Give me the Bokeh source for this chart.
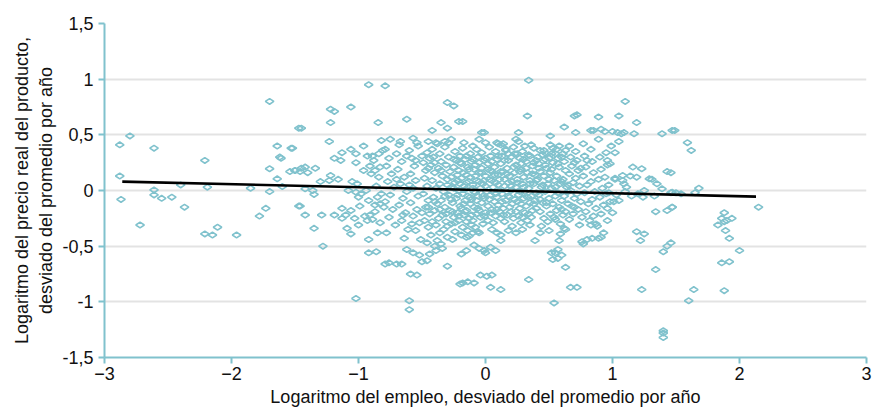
import numpy as np
from bokeh.plotting import figure
from bokeh.models import ColumnDataSource, FixedTicker
from bokeh.embed import file_html
from bokeh.resources import INLINE

# Observations: (log employment deviation, log real product price deviation)
left_tail = [
    (-2.88, 0.41), (-2.80, 0.49), (-2.61, 0.38), (-2.21, 0.27), (-2.88, 0.13),
    (-2.61, 0.005), (-2.40, 0.05), (-2.19, 0.03), (-1.85, 0.02), (-1.70, -0.01),
    (-2.87, -0.08), (-2.61, -0.04), (-2.55, -0.07), (-2.47, -0.06), (-2.37, -0.15),
    (-2.72, -0.31), (-2.21, -0.39), (-2.15, -0.40), (-2.11, -0.33), (-1.96, -0.40),
    (-1.73, -0.16), (-1.78, -0.23), (-1.47, -0.14), (-1.70, 0.80), (-1.64, 0.40),
    (-1.53, 0.38), (-1.62, 0.30), (-1.61, 0.29), (-1.47, 0.56), (-1.70, 0.195),
    (-1.64, 0.105), (-1.54, 0.17), (-1.50, 0.18), (-1.46, 0.17), (-1.60, 0.035),
    (-1.52, 0.38), (-1.45, 0.56),
]

left_spread = [
    (-0.92, 0.95), (-0.79, 0.94), (-1.22, 0.73), (-1.19, 0.71), (-1.06, 0.75),
    (-1.22, 0.61), (-0.845, 0.61), (-1.23, 0.44), (-0.96, 0.40), (-0.82, 0.45),
    (-1.13, 0.34), (-1.06, 0.37), (-1.02, 0.33), (-1.19, 0.29), (-1.14, 0.27),
    (-1.02, 0.25), (-0.93, 0.31), (-0.89, 0.31), (-0.84, 0.33), (-1.50, 0.18),
    (-1.45, 0.20), (-1.40, 0.16), (-1.42, 0.21), (-1.34, 0.20), (-0.96, 0.18),
    (-0.91, 0.22), (-0.87, 0.18), (-0.83, 0.21), (-1.22, 0.135), (-1.30, 0.08),
    (-1.23, 0.09), (-1.16, 0.10), (-1.05, 0.08), (-1.01, 0.06), (-1.42, 0.015),
    (-1.36, 0.00), (-1.35, -0.035), (-1.08, 0.00), (-1.02, -0.015), (-0.98, -0.03),
    (-0.94, 0.00), (-1.00, -0.06), (-0.85, -0.06), (-1.46, -0.14), (-1.42, -0.22),
    (-1.29, -0.22), (-1.19, -0.22), (-1.13, -0.16), (-1.10, -0.22), (-1.06, -0.18),
    (-1.03, -0.25), (-0.99, -0.14), (-0.95, -0.23), (-0.91, -0.22), (-0.89, -0.26),
    (-0.87, -0.13), (-0.83, -0.12), (-0.80, -0.15), (-1.13, -0.25), (-1.00, -0.31),
    (-0.93, -0.27), (-1.35, -0.34), (-1.09, -0.34), (-1.06, -0.39), (-0.92, -0.44),
    (-1.28, -0.50), (-0.92, -0.56), (-0.86, -0.55), (-0.79, -0.66), (-1.02, -0.97),
    (-0.88, 0.27), (-0.84, 0.12), (-0.86, 0.04), (-0.82, -0.03), (-0.87, -0.19),
    (-0.83, -0.29), (-0.81, 0.36), (-0.85, -0.38), (-0.90, 0.15), (-0.92, -0.09),
]

upper_edge = [
    (-0.30, 0.79), (-0.25, 0.76), (-0.62, 0.64), (-0.35, 0.61), (-0.30, 0.56),
    (-0.21, 0.62), (-0.42, 0.54), (-0.75, 0.46), (-0.67, 0.44), (-0.57, 0.47),
    (-0.54, 0.43), (-0.45, 0.44), (-0.38, 0.42), (-0.32, 0.44), (-0.27, 0.46),
    (0.34, 0.99), (0.33, 0.67), (-0.18, 0.62), (-0.03, 0.52), (0.26, 0.52),
    (-0.05, 0.46), (0.24, 0.46), (0.09, 0.43), (0.12, 0.41), (0.70, 0.67),
    (0.72, 0.68), (0.89, 0.66), (0.62, 0.57), (0.85, 0.54), (0.91, 0.55),
    (0.94, 0.53), (-0.01, 0.52), (0.10, 0.42), (0.51, 0.49), (0.71, 0.52),
    (0.83, 0.54), (1.00, 0.53), (1.09, 0.52), (1.17, 0.51),
]

lower_edge = [
    (-0.62, -0.53), (-0.57, -0.56), (-0.52, -0.58), (-0.44, -0.57), (-0.39, -0.54),
    (-0.34, -0.52), (-0.50, -0.64), (-0.46, -0.63), (-0.76, -0.65), (-0.70, -0.66),
    (-0.66, -0.66), (-0.30, -0.68), (-0.59, -0.75), (-0.54, -0.76), (-0.20, -0.84),
    (-0.60, -0.99), (-0.60, -1.07), (-0.19, -0.40), (-0.15, -0.42), (-0.10, -0.38),
    (-0.06, -0.37), (0.12, -0.45), (-0.09, -0.49), (-0.05, -0.52), (0.00, -0.56),
    (0.04, -0.51), (0.08, -0.54), (-0.01, -0.54), (-0.19, -0.57), (-0.15, -0.54),
    (-0.18, -0.83), (-0.14, -0.82), (-0.09, -0.83), (-0.04, -0.76), (0.01, -0.77),
    (0.05, -0.76), (0.04, -0.87), (0.12, -0.89), (0.34, -0.80), (0.76, -0.46),
    (0.80, -0.44), (0.84, -0.43), (0.91, -0.42), (0.58, -0.45), (0.52, -0.56),
    (0.55, -0.56), (0.57, -0.53), (0.53, -0.62), (0.57, -0.61), (0.63, -0.69),
    (0.67, -0.87), (0.72, -0.87), (0.54, -1.01), (0.83, -0.31), (0.87, -0.30),
    (0.77, -0.48), (0.89, -0.43), (0.59, -0.39), (0.62, -0.34), (0.43, -0.38),
    (0.39, -0.45), (0.60, -0.58),
]

core = [
    (-0.79, 0.37), (-0.76, 0.29), (-0.78, 0.22), (-0.74, 0.15), (-0.77, 0.08),
    (-0.72, 0.03), (-0.75, -0.04), (-0.79, -0.10), (-0.73, -0.17), (-0.76, -0.24),
    (-0.71, -0.31), (-0.78, -0.38), (-0.70, 0.33), (-0.68, 0.41), (-0.66, 0.26),
    (-0.69, 0.19), (-0.64, 0.12), (-0.67, 0.06), (-0.62, -0.01), (-0.65, -0.07),
    (-0.68, -0.13), (-0.63, -0.20), (-0.66, -0.27), (-0.61, -0.35), (-0.64, -0.43),
    (-0.60, 0.36), (-0.58, 0.29), (-0.56, 0.22), (-0.59, 0.15), (-0.55, 0.09),
    (-0.57, 0.02), (-0.53, -0.05), (-0.59, -0.11), (-0.54, -0.17), (-0.57, -0.23),
    (-0.52, -0.29), (-0.55, -0.36), (-0.51, -0.44), (-0.53, 0.40), (-0.50, 0.31),
    (-0.49, 0.25), (-0.47, 0.18), (-0.48, 0.11), (-0.46, 0.04), (-0.49, -0.03),
    (-0.45, -0.09), (-0.47, -0.15), (-0.44, -0.21), (-0.48, -0.27), (-0.45, -0.33),
    (-0.43, -0.40), (-0.46, -0.47), (-0.42, 0.37), (-0.41, 0.30), (-0.43, 0.23),
    (-0.40, 0.16), (-0.42, 0.09), (-0.39, 0.02), (-0.41, -0.06), (-0.38, -0.12),
    (-0.40, -0.18), (-0.37, -0.25), (-0.39, -0.31), (-0.36, -0.38), (-0.38, -0.45),
    (-0.36, 0.33), (-0.35, 0.26), (-0.37, 0.20), (-0.34, 0.13), (-0.36, 0.06),
    (-0.33, -0.01), (-0.35, -0.09), (-0.32, -0.15), (-0.34, -0.22), (-0.31, -0.28),
    (-0.33, -0.35), (-0.30, -0.42), (-0.32, 0.39), (-0.29, 0.30), (-0.31, 0.23),
    (-0.28, 0.17), (-0.30, 0.10), (-0.27, 0.03), (-0.29, -0.04), (-0.26, -0.11),
    (-0.28, -0.18), (-0.25, -0.24), (-0.27, -0.30), (-0.24, -0.37), (-0.26, -0.44),
    (-0.24, 0.35), (-0.23, 0.27), (-0.25, 0.21), (-0.22, 0.14), (-0.24, 0.07),
    (-0.21, 0.00), (-0.23, -0.07), (-0.20, -0.14), (-0.22, -0.20), (-0.21, -0.27),
    (-0.20, 0.31), (-0.19, 0.24), (-0.21, 0.18), (-0.18, -0.33), (-0.44, 0.29),
    (-0.46, 0.34), (-0.40, -0.50), (-0.35, -0.48), (-0.29, 0.43), (-0.39, 0.43),
    (-0.19, 0.11), (-0.17, 0.04), (-0.18, -0.03), (-0.16, -0.09), (-0.19, -0.16),
    (-0.17, -0.22), (-0.15, -0.28), (-0.18, 0.38), (-0.16, 0.28), (-0.14, 0.21),
    (-0.15, 0.14), (-0.13, 0.08), (-0.16, 0.01), (-0.14, -0.05), (-0.12, -0.12),
    (-0.15, -0.18), (-0.13, -0.25), (-0.11, -0.31), (-0.14, -0.36), (-0.12, 0.33),
    (-0.11, 0.26), (-0.09, 0.19), (-0.12, 0.12), (-0.10, 0.05), (-0.08, -0.02),
    (-0.11, -0.08), (-0.09, -0.15), (-0.07, -0.21), (-0.10, -0.27), (-0.08, -0.33),
    (-0.07, 0.37), (-0.06, 0.30), (-0.08, 0.23), (-0.05, 0.16), (-0.07, 0.09),
    (-0.04, 0.02), (-0.06, -0.05), (-0.03, -0.11), (-0.05, -0.18), (-0.04, -0.24),
    (-0.02, -0.30), (-0.03, 0.34), (-0.01, 0.27), (-0.03, 0.20), (0.00, 0.13),
    (-0.02, 0.06), (0.01, -0.01), (-0.01, -0.07), (0.02, -0.14), (0.00, -0.20),
    (0.02, -0.27), (0.03, 0.39), (0.04, 0.31), (0.02, 0.24), (0.05, 0.17),
    (0.03, 0.10), (0.06, 0.03), (0.04, -0.04), (0.07, -0.10), (0.05, -0.17),
    (0.08, -0.23), (0.06, -0.29), (0.08, 0.35), (0.09, 0.28), (0.07, 0.21),
    (0.10, 0.14), (0.08, 0.07), (0.11, 0.00), (0.09, -0.06), (0.10, -0.13),
    (-0.17, 0.43), (-0.10, 0.40), (0.05, -0.35), (-0.05, -0.38), (0.00, 0.43),
    (-0.13, -0.41), (0.09, -0.38), (-0.01, 0.09), (-0.09, -0.01), (0.04, 0.18),
    (0.11, -0.19), (0.12, -0.25), (0.13, 0.31), (0.12, 0.24), (0.14, 0.17),
    (0.11, 0.10), (0.15, 0.04), (0.13, -0.03), (0.16, -0.09), (0.14, -0.16),
    (0.17, -0.22), (0.15, -0.28), (0.16, 0.36), (0.18, 0.27), (0.17, 0.20),
    (0.19, 0.13), (0.18, 0.07), (0.20, 0.00), (0.19, -0.06), (0.21, -0.12),
    (0.20, -0.19), (0.22, -0.25), (0.21, -0.32), (0.23, 0.33), (0.22, 0.39),
    (0.24, 0.23), (0.23, 0.16), (0.25, 0.10), (0.24, 0.03), (0.26, -0.04),
    (0.25, -0.10), (0.27, -0.16), (0.26, -0.23), (0.28, -0.29), (0.27, 0.29),
    (0.29, 0.35), (0.28, 0.19), (0.30, 0.12), (0.29, 0.06), (0.31, -0.01),
    (0.30, -0.07), (0.32, -0.14), (0.31, -0.20), (0.33, -0.27), (0.32, 0.26),
    (0.34, 0.32), (0.33, 0.16), (0.35, 0.09), (0.34, 0.02), (0.36, -0.05),
    (0.35, -0.11), (0.37, -0.18), (0.36, -0.24), (0.38, 0.38), (0.37, 0.22),
    (0.39, 0.14), (0.38, 0.06), (0.40, -0.02), (0.39, -0.09), (0.40, -0.16),
    (0.14, 0.42), (0.26, 0.44), (0.31, 0.40), (0.18, -0.36), (0.29, -0.35),
    (0.12, -0.40), (0.24, -0.38), (0.35, -0.31), (0.21, 0.08), (0.27, -0.01),
    (0.41, 0.30), (0.42, 0.24), (0.43, 0.17), (0.41, 0.10), (0.44, 0.03),
    (0.42, -0.04), (0.45, -0.11), (0.43, -0.19), (0.46, -0.25), (0.44, -0.32),
    (0.46, 0.36), (0.47, 0.28), (0.48, 0.20), (0.46, 0.13), (0.49, 0.06),
    (0.47, -0.01), (0.50, -0.07), (0.48, -0.14), (0.51, -0.21), (0.49, -0.28),
    (0.51, 0.41), (0.52, 0.33), (0.53, 0.25), (0.51, 0.16), (0.54, 0.09),
    (0.52, 0.02), (0.55, -0.05), (0.53, -0.12), (0.56, -0.18), (0.54, -0.24),
    (0.56, 0.37), (0.57, 0.29), (0.58, 0.21), (0.56, 0.13), (0.59, 0.06),
    (0.57, -0.02), (0.60, -0.09), (0.58, -0.15), (0.61, -0.22), (0.59, -0.30),
    (0.61, 0.33), (0.62, 0.26), (0.63, 0.18), (0.61, 0.10), (0.64, 0.03),
    (0.62, -0.05), (0.65, -0.12), (0.63, -0.19), (0.66, -0.26), (0.66, 0.40),
    (0.67, 0.30), (0.68, 0.22), (0.66, 0.15), (0.69, 0.07), (0.67, 0.00),
    (0.70, -0.07), (0.68, -0.14), (0.69, -0.21), (0.50, -0.36), (0.63, -0.35),
    (0.71, 0.35), (0.72, 0.27), (0.73, 0.18), (0.71, 0.11), (0.74, 0.04),
    (0.72, -0.03), (0.75, -0.10), (0.73, -0.17), (0.76, -0.24), (0.74, -0.31),
    (0.77, 0.42), (0.78, 0.31), (0.79, 0.21), (0.77, 0.13), (0.80, 0.05),
    (0.78, -0.02), (0.81, -0.12), (0.79, -0.19), (0.82, -0.27), (0.83, 0.37),
    (0.84, 0.26), (0.85, 0.16), (0.83, 0.08), (0.86, -0.01), (0.84, -0.08),
    (0.87, -0.16), (0.85, -0.23), (0.89, 0.46), (0.90, 0.30), (0.91, 0.19),
    (0.89, 0.10), (0.92, 0.02), (0.90, -0.06), (0.93, -0.13), (0.91, -0.21),
    (0.95, 0.34), (0.96, 0.23), (0.94, 0.12), (0.97, 0.05), (0.95, -0.03),
    (0.98, -0.10), (0.96, -0.27), (0.99, 0.40), (0.88, -0.32), (0.93, -0.38),
]

dense_center = [
    (-0.27, 0.12), (-0.22, 0.09), (-0.18, 0.16), (-0.13, 0.19), (-0.08, 0.13),
    (-0.03, 0.16), (0.02, 0.19), (0.07, 0.14), (0.12, 0.17), (0.17, 0.15),
    (0.22, 0.21), (0.27, 0.17), (0.32, 0.20), (0.37, 0.15), (0.42, 0.20),
    (0.47, 0.23), (0.52, 0.19), (0.57, 0.24), (-0.25, 0.28), (-0.20, 0.25),
    (-0.15, 0.31), (-0.10, 0.28), (-0.05, 0.25), (0.00, 0.29), (0.05, 0.26),
    (0.10, 0.31), (0.15, 0.27), (0.20, 0.30), (0.25, 0.33), (0.30, 0.28),
    (0.35, 0.31), (0.40, 0.27), (0.45, 0.32), (0.50, 0.29), (0.55, 0.33),
    (0.60, 0.30), (-0.32, -0.05), (-0.27, -0.08), (-0.22, -0.04), (-0.17, -0.12),
    (-0.12, -0.06), (-0.07, -0.09), (-0.02, -0.05), (0.03, -0.08), (0.08, -0.03),
    (0.13, -0.10), (0.18, -0.05), (0.23, -0.08), (0.28, -0.12), (0.33, -0.06),
    (0.38, -0.12), (0.43, -0.08), (0.48, -0.11), (-0.36, -0.17), (-0.31, -0.21),
    (-0.26, -0.19), (-0.21, -0.23), (-0.16, -0.19), (-0.11, -0.22), (-0.06, -0.16),
    (-0.01, -0.23), (0.04, -0.20), (0.09, -0.17), (0.14, -0.22), (0.19, -0.15),
    (0.24, -0.19), (0.29, -0.24), (0.34, -0.21), (-0.30, 0.05), (-0.25, 0.02),
    (-0.20, 0.06), (-0.15, 0.07), (-0.10, 0.02), (-0.05, 0.08), (0.00, 0.04),
    (0.05, 0.09), (0.10, 0.05), (0.15, 0.10), (0.20, 0.04), (0.25, 0.07),
    (0.30, 0.03), (0.35, 0.06), (0.40, 0.09), (0.45, 0.05), (0.50, 0.10),
    (0.55, 0.03), (0.60, 0.08), (0.65, 0.05), (-0.45, 0.20), (-0.40, 0.25),
    (-0.35, 0.18), (-0.45, -0.15), (-0.40, -0.10), (-0.50, -0.20), (-0.42, -0.28),
    (-0.30, -0.32), (-0.24, -0.29), (0.18, 0.33), (0.28, 0.24), (0.38, 0.25),
    (0.43, 0.36), (0.48, 0.33), (0.53, 0.38), (0.63, 0.36), (0.58, 0.40),
    (0.16, 0.37), (0.36, 0.41), (0.70, 0.25), (0.75, 0.20), (0.80, 0.27),
    (0.65, -0.01), (0.70, -0.15), (0.60, -0.17), (0.55, -0.26), (-0.55, 0.27),
    (-0.62, 0.31), (-0.58, -0.30), (-0.65, -0.22), (-0.60, 0.05), (-0.70, 0.10),
]

right_tail = [
    (1.10, 0.80), (1.05, 0.67), (1.19, 0.61), (1.04, 0.52), (1.07, 0.51),
    (1.39, 0.51), (1.47, 0.54), (1.05, 0.44), (1.02, 0.34), (0.96, 0.27),
    (0.98, 0.24), (1.16, 0.21), (1.23, 0.195), (1.43, 0.17), (1.08, 0.135),
    (1.02, 0.10), (1.19, 0.12), (1.29, 0.105), (1.31, 0.10), (1.35, 0.06),
    (1.09, 0.06), (1.11, 0.03), (1.25, 0.00), (1.39, 0.015), (0.97, -0.02),
    (1.03, -0.04), (1.10, -0.01), (1.15, -0.05), (1.20, -0.03), (1.01, -0.10),
    (1.05, -0.09), (0.96, -0.16), (1.00, -0.20), (1.34, -0.19), (1.43, -0.18),
    (1.47, -0.15), (1.19, -0.37), (1.25, -0.39), (1.22, -0.45), (1.43, -0.50),
    (1.46, -0.47), (1.40, -0.55), (1.34, -0.71), (1.23, -0.89), (1.02, 0.11),
    (1.08, 0.09), (1.14, 0.13), (1.33, -0.05), (1.24, -0.06), (1.47, -0.015),
    (1.49, 0.54), (1.59, 0.43), (1.62, 0.36), (1.68, 0.02), (1.65, -0.02),
    (1.46, -0.02), (1.50, -0.02), (1.54, -0.03), (2.15, -0.15), (1.47, -0.15),
    (1.88, -0.20), (1.86, -0.25), (1.94, -0.25), (1.90, -0.27), (1.83, -0.31),
    (1.88, -0.28), (1.89, -0.36), (1.92, -0.43), (2.00, -0.54), (1.86, -0.65),
    (1.92, -0.64), (1.64, -0.89), (1.88, -0.90), (1.60, -0.99), (1.40, -1.26),
    (1.40, -1.28), (1.40, -1.32), (1.46, 0.16),
]

# Fitted trend line end points
trend_x = [-2.86, 2.13]
trend_y = [0.08, -0.055]

x_ticks = [-3, -2, -1, 0, 1, 2, 3]
y_ticks = [-1.5, -1, -0.5, 0, 0.5, 1, 1.5]
y_tick_labels = {-1.5: "-1,5", -1: "-1", -0.5: "-0,5", 0: "0", 0.5: "0,5", 1: "1", 1.5: "1,5"}

points = left_tail + left_spread + upper_edge + lower_edge + core + dense_center + right_tail
emp = [pt[0] for pt in points]
price = [pt[1] for pt in points]

TEAL = "#80c2cd"
FONT = "Liberation Sans"
TEXT = "#111111"

p = figure(width=884, height=410, x_range=(-3, 3), y_range=(-1.5, 1.5),
           output_backend="svg", toolbar_location=None,
           min_border_left=104, min_border_right=18,
           min_border_top=23, min_border_bottom=53)
p.outline_line_color = None
p.background_fill_color = "white"

src = ColumnDataSource(dict(x=emp, y=price))
p.scatter("x", "y", source=src, marker="diamond", size=8.5, angle=np.pi / 2,
          fill_color=None, line_color=TEAL, line_width=1.6)

p.line(trend_x, trend_y, line_color="black", line_width=2.6)

p.xaxis.ticker = FixedTicker(ticks=x_ticks)
p.yaxis.ticker = FixedTicker(ticks=y_ticks)
p.yaxis.major_label_overrides = y_tick_labels

p.xgrid.visible = False
p.ygrid.ticker = FixedTicker(ticks=y_ticks)
p.ygrid.grid_line_color = "#e3e3e3"
p.ygrid.grid_line_width = 2

for ax in (p.xaxis[0], p.yaxis[0]):
    ax.axis_line_color = TEAL
    ax.axis_line_width = 2
    ax.major_tick_line_color = TEAL
    ax.major_tick_line_width = 2
    ax.major_tick_in = 0
    ax.major_tick_out = 6
    ax.minor_tick_line_color = None
    ax.major_label_text_font = FONT
    ax.major_label_text_font_size = "18px"
    ax.major_label_text_color = TEXT
    ax.axis_label_text_font = FONT
    ax.axis_label_text_font_size = "18px"
    ax.axis_label_text_font_style = "normal"
    ax.axis_label_text_color = TEXT

p.xaxis.axis_label = "Logaritmo del empleo, desviado del promedio por año"
p.xaxis.major_label_standoff = 3
p.xaxis.axis_label_standoff = 4
p.yaxis.axis_label = "Logaritmo del precio real del producto,\ndesviado del promedio por año"
p.yaxis.major_label_standoff = 5
p.yaxis.axis_label_standoff = 3

open("out.html", "w").write(file_html(p, INLINE))
